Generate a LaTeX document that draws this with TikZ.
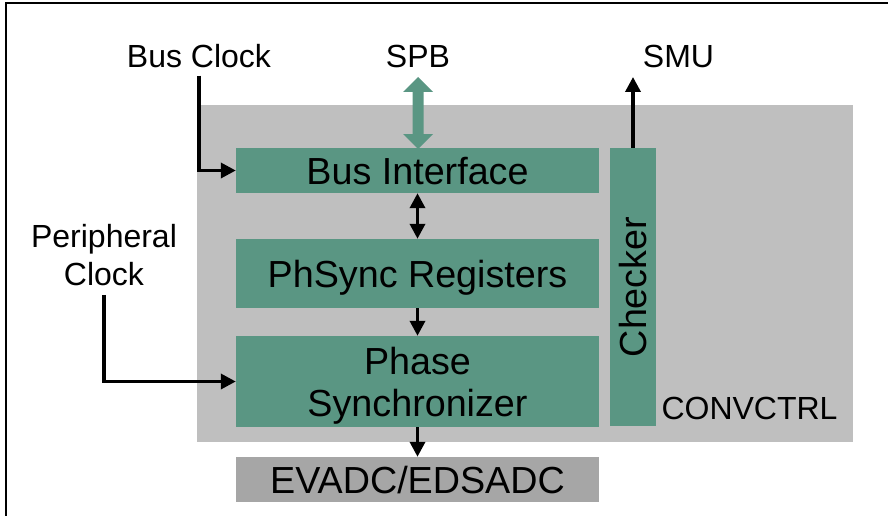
\documentclass[tikz,border=0pt]{standalone}
\usepackage{fontspec}
\setmainfont{Liberation Sans}
\usepackage{graphicx}
\usetikzlibrary{arrows.meta}
\definecolor{blkgreen}{HTML}{5A9683}
\definecolor{convgray}{HTML}{BFBFBF}
\definecolor{adcgray}{HTML}{A6A6A6}
\tikzset{
  boxbase/.style={rectangle, fill=blkgreen, inner sep=0pt, font=\fontsize{37.7}{42}\selectfont},
  blkbox/.style={boxbase, text height=27pt, text depth=0pt},
  lbl/.style={inner sep=0pt, font=\fontsize{32}{38}\selectfont},
  lbl1/.style={lbl, text height=23pt, text depth=0pt},
  arr/.style={line width=3.5pt, -{Triangle[length=15pt,width=15pt]}},
  arr2/.style={line width=3.5pt, {Triangle[length=15pt,width=15pt]}-{Triangle[length=15pt,width=15pt]}},
}
\begin{document}
\begin{tikzpicture}[x=1pt,y=-1pt]
\useasboundingbox (0,0) rectangle (888,516);
\clip (0,0) rectangle (888,516);
% outer frame (top and left edges visible)
\draw[line width=2pt] (5.5,530) -- (5.5,3) -- (900,3);
% CONVCTRL area
\node[rectangle, fill=convgray, inner sep=0pt, minimum width=656pt, minimum height=337pt] (conv) at (525,273.5) {};
% blocks
\node[blkbox, minimum width=363pt, minimum height=45pt] (bi) at (417.5,170.5) {Bus Interface};
\node[blkbox, minimum width=363pt, minimum height=69pt] (ps) at (417.5,273.5) {PhSync Registers};
\node[boxbase, align=center, text depth=0pt, minimum width=363pt, minimum height=91pt] (phs) at (417.5,381.5) {Phase\\Synchronizer};
\node[boxbase, minimum width=46pt, minimum height=278pt] (ck) at (633,287) {\rotatebox{90}{Checker}};
\node[blkbox, fill=adcgray, minimum width=363pt, minimum height=45pt] (ev) at (417.5,479.5) {EVADC/EDSADC};
% labels
\node[lbl1] (bc) at (199,56) {Bus Clock};
\node[lbl1] (spb) at (418,56) {SPB};
\node[lbl1] (smu) at (678.5,56) {SMU};
\node[lbl, align=center] (pc) at (104,255) {Peripheral\\Clock};
\node[lbl1] (cc) at (749.5,408) {CONVCTRL};
\coordinate (smuend) at (633,77);
% SPB fat double arrow
\fill[blkgreen] (418,77) -- (433,92) -- (423.5,92) -- (423.5,134) -- (433,134) -- (418,149)
  -- (403,134) -- (412.5,134) -- (412.5,92) -- (403,92) -- cycle;
% connectors
\draw[arr] ([yshift=-8pt]bc.south) |- (bi.west);
\draw[arr] ([yshift=-9pt]pc.south) |- (phs.west);
\draw[arr2] (bi.south) -- (ps.north);
\draw[arr] (ps.south) -- (phs.north);
\draw[arr] (phs.south) -- (ev.north);
\draw[arr] (ck.north) -- (smuend);
\end{tikzpicture}
\end{document}
